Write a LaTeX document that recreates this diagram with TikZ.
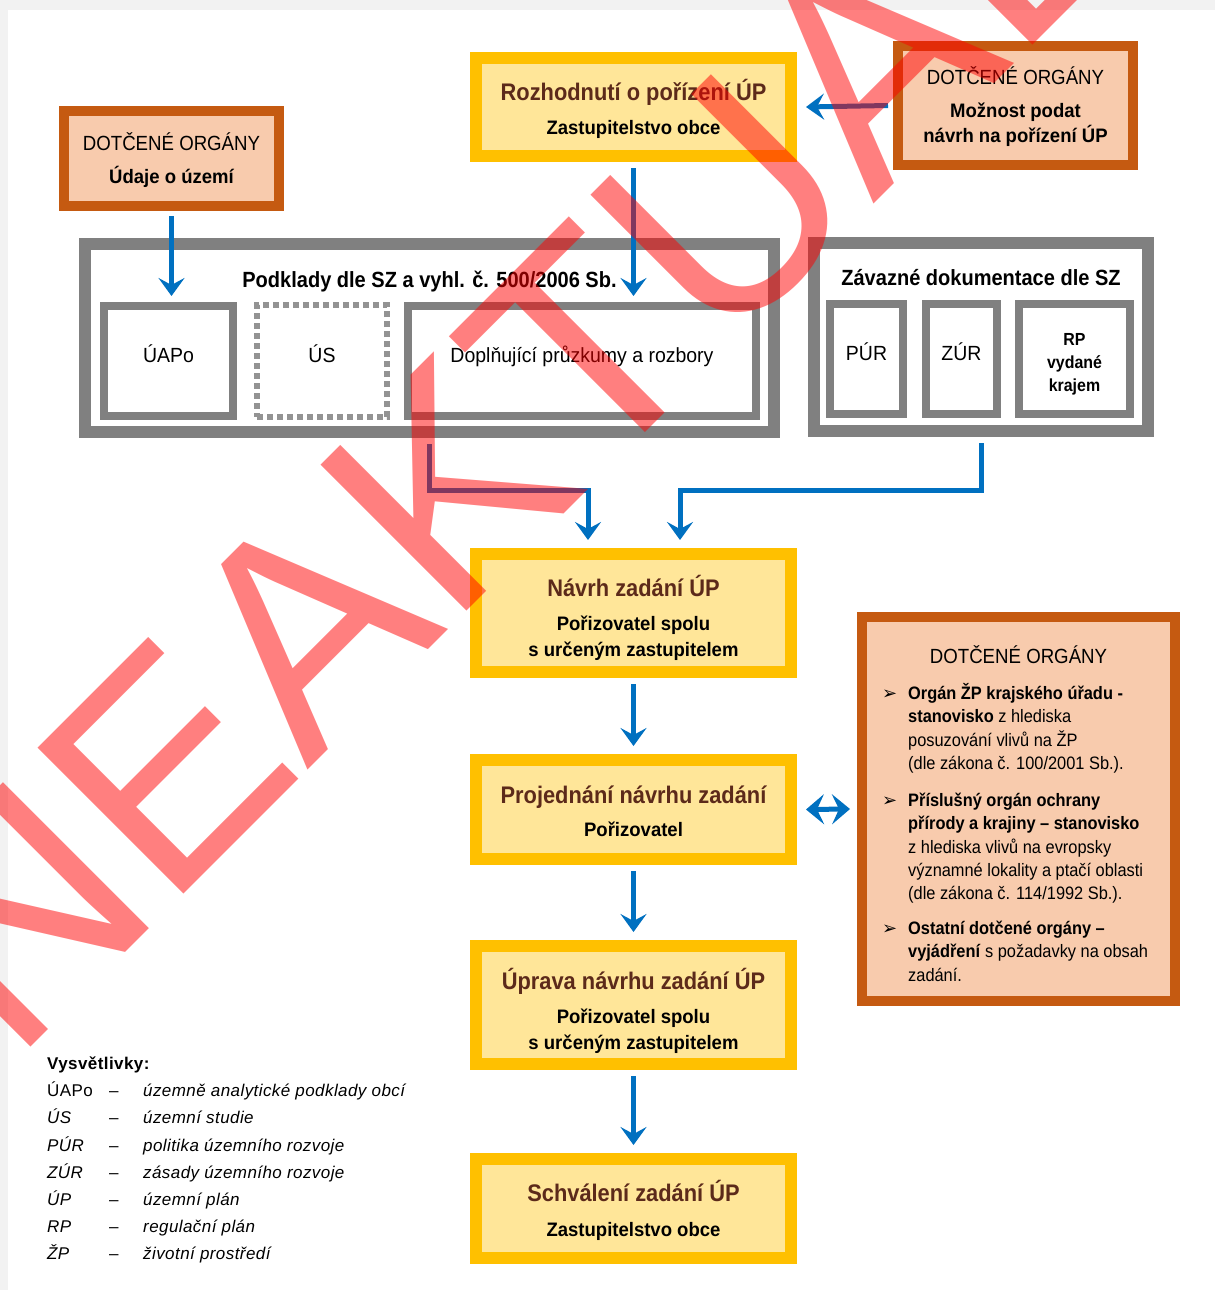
\documentclass[tikz,border=0pt]{standalone}
\usepackage{fontspec}
\setmainfont{Liberation Sans}
\newfontfamily\cond[FakeStretch=0.91]{Liberation Sans}
\newfontfamily\condw[FakeStretch=0.95]{Liberation Sans}
\newfontfamily\legf[LetterSpace=2.5]{Liberation Sans}
\newfontfamily\symf{DejaVu Sans}
\usetikzlibrary{arrows.meta}
\definecolor{yb}{HTML}{FFC000}
\definecolor{yf}{HTML}{FFE699}
\definecolor{bb}{HTML}{C55A11}
\definecolor{bf}{HTML}{F8CBAD}
\definecolor{gb}{HTML}{808080}
\definecolor{ar}{HTML}{0070C0}
\definecolor{tb}{HTML}{5C2A1A}
\definecolor{wmred}{HTML}{FF0000}
\tikzset{
  ybox/.style={draw=yb, fill=yf, line width=12pt, minimum width=315pt, inner sep=0pt},
  obox/.style={draw=bb, fill=bf, line width=10pt, inner sep=0pt},
  gbox/.style={draw=gb, fill=white, line width=12pt, inner sep=0pt},
  gsub/.style={draw=gb, fill=white, line width=8pt, inner sep=0pt},
  arr/.style={draw=ar, line width=5pt, -{Stealth[length=18pt,width=26pt,inset=7pt]}},
  darr/.style={draw=ar, line width=5pt, {Stealth[length=18pt,width=30pt,inset=7pt]}-{Stealth[length=18pt,width=30pt,inset=7pt]}},
  ttl/.style={anchor=base, inner sep=0pt, text=tb, font=\cond\bfseries\fontsize{24}{28}\selectfont},
  sub/.style={anchor=base, inner sep=0pt, font=\condw\bfseries\fontsize{19.5}{24}\selectfont},
  hd/.style={anchor=base, inner sep=0pt, font=\cond\fontsize{20.5}{24}\selectfont},
  lab/.style={anchor=base, inner sep=0pt, font=\condw\fontsize{20.5}{24}\selectfont},
  sect/.style={anchor=base, inner sep=0pt, font=\cond\bfseries\fontsize{22}{26}\selectfont},
  rpl/.style={anchor=base, inner sep=0pt, font=\cond\bfseries\fontsize{17.5}{20}\selectfont},
  item/.style={anchor=base west, inner sep=0pt, font=\cond\fontsize{18}{23.3}\selectfont},
  bul/.style={anchor=base west, inner sep=0pt, font=\symf\fontsize{18}{20}\selectfont},
  leg/.style={anchor=base west, inner sep=0pt, font=\legf\fontsize{17}{20}\selectfont},
  wm/.style={anchor=base west, inner sep=0pt, text=wmred, text opacity=0.5, font=\fontsize{300}{300}\selectfont}
}
\begin{document}
\begin{tikzpicture}[x=1pt,y=-1pt]
\useasboundingbox (0,0) rectangle (1215,1290);
\fill[white] (0,0) rectangle (1215,1290);
\fill[black!5] (0,0) rectangle (1215,10);
\fill[black!5] (0,0) rectangle (8,1290);
% boxes
\node[ybox, minimum height=98pt] (rozh) at (633.5,107) {};
\node[obox, minimum width=235pt, minimum height=119pt] (doTop) at (1015.5,105.5) {};
\node[obox, minimum width=215pt, minimum height=95pt] (doLeft) at (171.5,158.5) {};
\node[gbox, minimum width=689pt, minimum height=188pt] (podk) at (429.5,338) {};
\node[gsub, minimum width=129pt, minimum height=110pt] (uapo) at (168.5,361) {};
\node[gsub, draw=gb!85, line width=6pt, dash pattern=on 6pt off 4pt, minimum width=130pt, minimum height=112pt] (us) at (322,361) {};
\node[gsub, minimum width=348pt, minimum height=110pt] (dopl) at (582,361) {};
\node[gbox, minimum width=334pt, minimum height=188pt] (zav) at (981,337) {};
\node[gsub, minimum width=73pt, minimum height=110pt] (pur) at (866.5,359) {};
\node[gsub, minimum width=71pt, minimum height=110pt] (zur) at (961.5,359) {};
\node[gsub, minimum width=111pt, minimum height=110pt] (rp) at (1074.5,359) {};
\node[ybox, minimum height=118pt] (navrh) at (633.5,613) {};
\node[ybox, minimum height=99pt] (proj) at (633.5,809.5) {};
\node[ybox, minimum height=118pt] (uprava) at (633.5,1005) {};
\node[ybox, minimum height=99pt] (schv) at (633.5,1208.5) {};
\node[obox, minimum width=313pt, minimum height=384pt] (doR) at (1018.5,809) {};
% texts
\node[ttl] (rozhT) at (633.5,100.6) {Rozhodnutí o pořízení ÚP};
\node[sub] (rozhS) at (633.5,134) {Zastupitelstvo obce};
\node[hd] (doTopH) at (1015.5,84.5) {DOTČENÉ ORGÁNY};
\node[sub] (doTopS1) at (1015.5,117) {Možnost podat};
\node[sub] (doTopS2) at (1015.5,142) {návrh na pořízení ÚP};
\node[hd] (doLeftH) at (171.5,150.5) {DOTČENÉ ORGÁNY};
\node[sub] (doLeftS) at (171.5,183) {Údaje o území};
\node[sect] (podkT) at (429.5,287) {Podklady dle SZ a vyhl. č. 500/2006 Sb.};
\node[lab] (uapoT) at (168.5,362) {ÚAPo};
\node[lab] (usT) at (322,362) {ÚS};
\node[lab] (doplT) at (582,362) {Doplňující průzkumy a rozbory};
\node[sect] (zavT) at (981,285) {Závazné dokumentace dle SZ};
\node[lab] (purT) at (866.5,360) {PÚR};
\node[lab] (zurT) at (961.5,360) {ZÚR};
\node[rpl] (rpT1) at (1074.5,345) {RP};
\node[rpl] (rpT2) at (1074.5,368) {vydané};
\node[rpl] (rpT3) at (1074.5,391) {krajem};
\node[ttl] (navrhT) at (633.5,596.6) {Návrh zadání ÚP};
\node[sub] (navrhS1) at (633.5,630) {Pořizovatel spolu};
\node[sub] (navrhS2) at (633.5,656) {s určeným zastupitelem};
\node[ttl] (projT) at (633.5,803.6) {Projednání návrhu zadání};
\node[sub] (projS) at (633.5,836) {Pořizovatel};
\node[ttl] (upravaT) at (633.5,989.6) {Úprava návrhu zadání ÚP};
\node[sub] (upravaS1) at (633.5,1023) {Pořizovatel spolu};
\node[sub] (upravaS2) at (633.5,1049) {s určeným zastupitelem};
\node[ttl] (schvT) at (633.5,1201.6) {Schválení zadání ÚP};
\node[sub] (schvS) at (633.5,1236) {Zastupitelstvo obce};
\node[hd] (doRH) at (1018.5,663.5) {DOTČENÉ ORGÁNY};
\node[bul] (b1) at (882,699.5) {➢};
\node[bul] (b2) at (882,806.5) {➢};
\node[bul] (b3) at (882,934.5) {➢};
\node[item] (i1) at (908,699.5) {\parbox[t]{262pt}{\raggedright\textbf{Orgán ŽP krajského úřadu -}\\\textbf{stanovisko} z hlediska\\posuzování vlivů na ŽP\\(dle zákona č. 100/2001 Sb.).}};
\node[item] (i2) at (908,806.5) {\parbox[t]{262pt}{\raggedright\textbf{Příslušný orgán ochrany}\\\textbf{přírody a krajiny – stanovisko}\\z hlediska vlivů na evropsky\\významné lokality a ptačí oblasti\\(dle zákona č. 114/1992 Sb.).}};
\node[item] (i3) at (908,934.5) {\parbox[t]{262pt}{\raggedright\textbf{Ostatní dotčené orgány –}\\\textbf{vyjádření} s požadavky na obsah\\zadání.}};
% legend
\node[leg, font=\legf\bfseries\fontsize{17}{20}\selectfont] (legH) at (47,1069) {Vysvětlivky:};
\node[leg] (l1a) at (47,1096) {ÚAPo};
\node[leg] (l1b) at (109,1096) {–};
\node[leg] (l1c) at (143,1096) {\itshape územně analytické podklady obcí};
\node[leg] (l2a) at (47,1123) {\itshape ÚS};
\node[leg] (l2b) at (109,1123) {–};
\node[leg] (l2c) at (143,1123) {\itshape územní studie};
\node[leg] (l3a) at (47,1151) {\itshape PÚR};
\node[leg] (l3b) at (109,1151) {–};
\node[leg] (l3c) at (143,1151) {\itshape politika územního rozvoje};
\node[leg] (l4a) at (47,1178) {\itshape ZÚR};
\node[leg] (l4b) at (109,1178) {–};
\node[leg] (l4c) at (143,1178) {\itshape zásady územního rozvoje};
\node[leg] (l5a) at (47,1205) {\itshape ÚP};
\node[leg] (l5b) at (109,1205) {–};
\node[leg] (l5c) at (143,1205) {\itshape územní plán};
\node[leg] (l6a) at (47,1232) {\itshape RP};
\node[leg] (l6b) at (109,1232) {–};
\node[leg] (l6c) at (143,1232) {\itshape regulační plán};
\node[leg] (l7a) at (47,1259) {\itshape ŽP};
\node[leg] (l7b) at (109,1259) {–};
\node[leg] (l7c) at (143,1259) {\itshape životní prostředí};
% connectors
\coordinate (j1) at (588,490);
\coordinate (j2) at (680,490);
\draw[arr] ([xshift=-5pt]doTop.west) -- ([xshift=9pt]rozh.east);
\draw[arr] ([yshift=-5pt]doLeft.south) -- ([yshift=6pt]doLeft.south |- uapo.north);
\draw[arr] ([yshift=-6pt]rozh.south) -- ([yshift=6pt]rozh.south |- dopl.north);
\draw[arr] ([yshift=-6pt]podk.south) |- (j1) -- ([yshift=8pt]j1 |- navrh.north);
\draw[arr] ([yshift=-6pt]zav.south) |- (j2) -- ([yshift=8pt]j2 |- navrh.north);
\draw[arr] ([yshift=-6pt]navrh.south) -- ([yshift=8pt]proj.north);
\draw[arr] ([yshift=-6pt]proj.south) -- ([yshift=8pt]uprava.north);
\draw[arr] ([yshift=-6pt]uprava.south) -- ([yshift=8pt]schv.north);
\draw[darr] ([xshift=9pt]proj.east) -- ([xshift=-7pt]doR.west);
% watermark
\node[wm, rotate=45] (wmark) at (13,1065) {NEAKTUÁLNÍ};
\end{tikzpicture}
\end{document}
